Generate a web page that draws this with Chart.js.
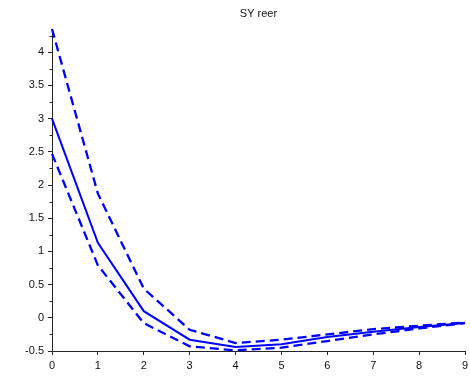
<!DOCTYPE html>
<html>
<head>
<meta charset="utf-8">
<script src="https://cdn.jsdelivr.net/npm/chart.js@4/dist/chart.umd.min.js"></script>
<style>
  html, body { margin: 0; padding: 0; background: #fff; }
  #wrap { width: 470px; height: 380px; }
</style>
</head>
<body>
<div id="wrap"><canvas id="c" width="470" height="380"></canvas></div>
<script>
// Impulse response of SY reer with its error band
const steps = [0, 1, 2, 3, 4, 5, 6, 7, 8, 9];
const irf   = [3.00, 1.13, 0.10, -0.33, -0.44, -0.40, -0.29, -0.21, -0.14, -0.08];
const upper = [4.35, 1.87, 0.44, -0.18, -0.38, -0.33, -0.25, -0.17, -0.12, -0.07];
const lower = [2.47, 0.79, -0.08, -0.43, -0.49, -0.45, -0.35, -0.25, -0.16, -0.08];
const yMajorTicks = [-0.5, 0, 0.5, 1, 1.5, 2, 2.5, 3, 3.5, 4];
const yMinorTicks = [-0.25, 0.25, 0.75, 1.25, 1.75, 2.25, 2.75, 3.25, 3.75, 4.25];
const xTicks = [0, 1, 2, 3, 4, 5, 6, 7, 8, 9];
const titleText = 'SY reer';

const toPts = arr => arr.map((v, i) => ({ x: steps[i], y: v }));
const FONT = { family: '"Liberation Sans", Arial, sans-serif', size: 11 };
const AXIS = '#262626';

// title centred over the plot area, plus short minor tick marks on the left axis
const decorations = {
  id: 'decorations',
  afterDraw(chart) {
    const y = chart.scales.y;
    const ctx = chart.ctx;
    const area = chart.chartArea;
    ctx.save();
    ctx.fillStyle = '#111';
    ctx.font = `${FONT.size}px ${FONT.family}`;
    ctx.textAlign = 'center';
    ctx.textBaseline = 'middle';
    ctx.fillText(titleText, (area.left + area.right) / 2, 14);

    ctx.strokeStyle = AXIS;
    ctx.lineWidth = 1;
    yMinorTicks.forEach(v => {
      const py = Math.round(y.getPixelForValue(v)) + 0.5;
      ctx.beginPath();
      ctx.moveTo(area.left, py);
      ctx.lineTo(area.left - 2.5, py);
      ctx.stroke();
    });
    ctx.restore();
  }
};

const line = (data, dashed) => ({
  data: toPts(data),
  borderColor: '#0000ff',
  borderWidth: dashed ? 2.3 : 2,
  borderDash: dashed ? [9, 5] : [],
  pointRadius: 0,
  tension: 0,
  fill: false,
  clip: 6
});

new Chart(document.getElementById('c'), {
  type: 'line',
  data: { datasets: [line(irf, false), line(upper, true), line(lower, true)] },
  options: {
    responsive: false,
    animation: false,
    devicePixelRatio: 1,
    layout: { padding: { left: 0, right: 5, top: 29, bottom: 0 } },
    plugins: {
      legend: { display: false },
      tooltip: { enabled: false },
      title: { display: false }
    },
    scales: {
      x: {
        type: 'linear',
        min: 0, max: 9,
        afterBuildTicks: s => { s.ticks = xTicks.map(v => ({ value: v })); },
        afterFit: s => { s.height = 29; s.paddingLeft = 0; s.paddingRight = 0; },
        ticks: { color: '#111', font: FONT, padding: 4, maxRotation: 0,
                 callback: v => String(v) },
        grid: { drawOnChartArea: false, drawTicks: true, tickLength: 4, color: AXIS },
        border: { display: true, color: AXIS, width: 1 }
      },
      y: {
        type: 'linear',
        min: -0.5, max: 4.35,
        afterBuildTicks: s => { s.ticks = yMajorTicks.map(v => ({ value: v })); },
        afterFit: s => { s.width = 52; s.paddingTop = 0; s.paddingBottom = 0; },
        ticks: { color: '#111', font: FONT, padding: 4,
                 callback: v => String(v) },
        grid: { drawOnChartArea: false, drawTicks: true, tickLength: 4, color: AXIS },
        border: { display: true, color: AXIS, width: 1 }
      }
    }
  },
  plugins: [decorations]
});
</script>
</body>
</html>
